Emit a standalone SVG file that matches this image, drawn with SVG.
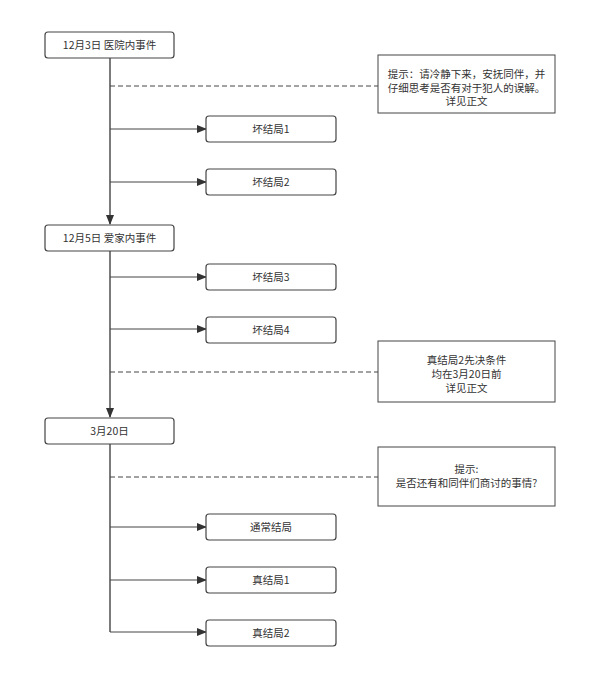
<svg xmlns="http://www.w3.org/2000/svg" width="600" height="679" viewBox="0 0 600 679">
<style>
.box{fill:#fff;stroke:#444;stroke-width:1.2}
.note{fill:#fff;stroke:#444;stroke-width:1}
.t{font-family:"Microsoft YaHei","Noto Sans CJK SC",sans-serif;font-size:10.5px;fill:#333;text-anchor:middle}
.ln{fill:none;stroke:#444;stroke-width:1.4}
.br{fill:none;stroke:#444;stroke-width:1}
.dash{fill:none;stroke:#444;stroke-width:1;stroke-dasharray:5 3}
</style>
<defs>
<marker id="ah" markerWidth="10" markerHeight="8" refX="9" refY="4" orient="auto" markerUnits="userSpaceOnUse">
<path d="M0,0 L10,4 L0,8 Z" fill="#333"/>
</marker>
</defs>
<g id="connectors">
<path class="ln" d="M110,58 V224" marker-end="url(#ah)"/>
<path class="ln" d="M110,251 V417" marker-end="url(#ah)"/>
<path class="ln" d="M110,444 V632"/>
<path class="dash" d="M110,86 H378"/>
<path class="dash" d="M110,372 H378"/>
<path class="dash" d="M110,477 H378"/>
<path class="br" d="M110,129 H206" marker-end="url(#ah)"/>
<path class="br" d="M110,182 H206" marker-end="url(#ah)"/>
<path class="br" d="M110,277 H206" marker-end="url(#ah)"/>
<path class="br" d="M110,329 H206" marker-end="url(#ah)"/>
<path class="br" d="M110,527 H206" marker-end="url(#ah)"/>
<path class="br" d="M110,580 H206" marker-end="url(#ah)"/>
<path class="br" d="M110,632 H206" marker-end="url(#ah)"/>
</g>
<g id="n1"><rect class="box" x="45" y="32" width="129" height="26" rx="3"/><text class="t" x="109.5" y="49">12月3日 医院内事件</text></g>
<g id="n2"><rect class="box" x="45" y="225" width="129" height="26" rx="3"/><text class="t" x="109.5" y="242">12月5日 爱家内事件</text></g>
<g id="n3"><rect class="box" x="45" y="418" width="129" height="26" rx="3"/><text class="t" x="109.5" y="435">3月20日</text></g>
<g id="b1"><rect class="box" x="206" y="116" width="130" height="26" rx="3"/><text class="t" x="271" y="133">坏结局1</text></g>
<g id="b2"><rect class="box" x="206" y="169" width="130" height="26" rx="3"/><text class="t" x="271" y="186">坏结局2</text></g>
<g id="b3"><rect class="box" x="206" y="264" width="130" height="26" rx="3"/><text class="t" x="271" y="281">坏结局3</text></g>
<g id="b4"><rect class="box" x="206" y="317" width="130" height="26" rx="3"/><text class="t" x="271" y="334">坏结局4</text></g>
<g id="e1"><rect class="box" x="206" y="514" width="130" height="26" rx="3"/><text class="t" x="271" y="531">通常结局</text></g>
<g id="e2"><rect class="box" x="206" y="567" width="130" height="26" rx="3"/><text class="t" x="271" y="584">真结局1</text></g>
<g id="e3"><rect class="box" x="206" y="620" width="130" height="26" rx="3"/><text class="t" x="271" y="637">真结局2</text></g>
<g id="note1"><rect class="note" x="378" y="55" width="177" height="58"/>
<text class="t" x="466.5" y="78">提示：请冷静下来，安抚同伴，并</text>
<text class="t" x="466.5" y="91.5">仔细思考是否有对于犯人的误解。</text>
<text class="t" x="466.5" y="105">详见正文</text></g>
<g id="note2"><rect class="note" x="378" y="341" width="177" height="61"/>
<text class="t" x="466.5" y="364">真结局2先决条件</text>
<text class="t" x="466.5" y="378">均在3月20日前</text>
<text class="t" x="466.5" y="392">详见正文</text></g>
<g id="note3"><rect class="note" x="378" y="447" width="177" height="59"/>
<text class="t" x="466.5" y="473">提示:</text>
<text class="t" x="466.5" y="487">是否还有和同伴们商讨的事情?</text></g>
</svg>
